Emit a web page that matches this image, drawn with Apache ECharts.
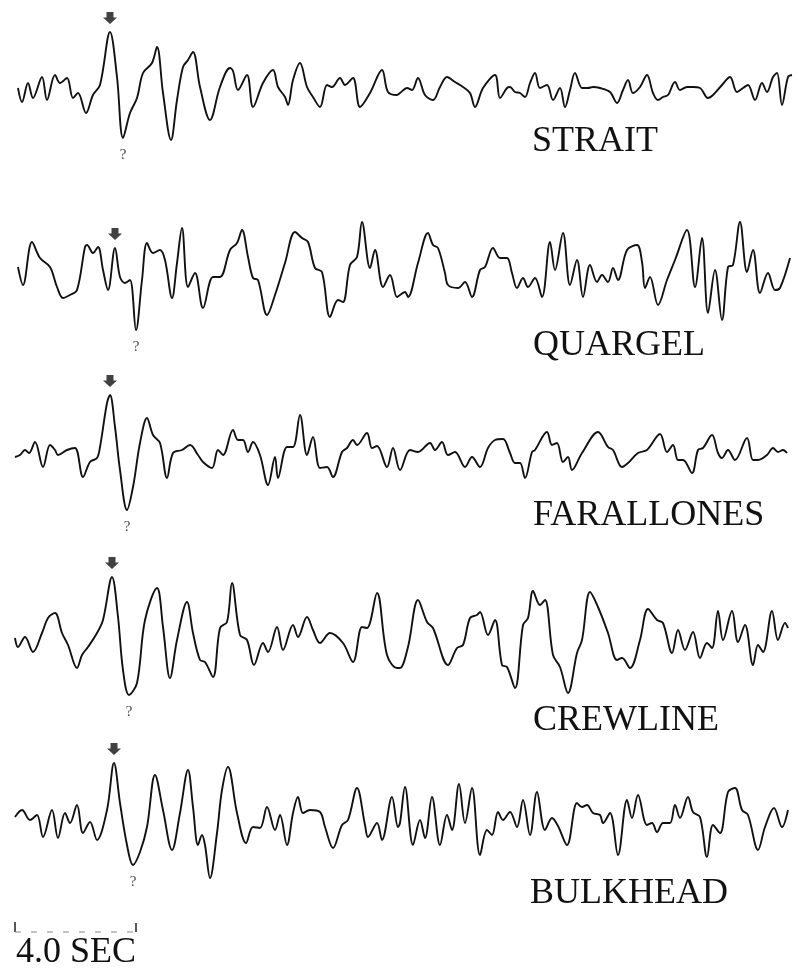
<!DOCTYPE html>
<html>
<head>
<meta charset="utf-8">
<script src="https://cdn.jsdelivr.net/npm/echarts@6/dist/echarts.min.js"></script>
<style>html,body{margin:0;padding:0;background:#fff;}#c{width:798px;height:979px;}</style>
</head>
<body>
<div id="c"></div>
<script>
const strait = [[18,88],[22,102],[28,83],[33,98],[42,77],[47,100],[55,75],[60,83],[67,78],[73,98],[78,93],[86,113],[93,95],[100,85],[110,32],[117,77],[123,138],[130,113],[137,98],[143,73],[152,63],[157,47],[163,93],[171,140],[177,100],[183,67],[188,60],[193,52],[200,87],[210,120],[220,87],[230,68],[233,71],[238,90],[247,75],[253,107],[263,83],[273,70],[278,87],[285,97],[288,105],[293,80],[300,63],[307,87],[313,97],[320,107],[327,85],[332,87],[340,78],[345,85],[353,78],[360,107],[370,93],[382,70],[388,92],[397,95],[400,93],[407,88],[412,90],[418,78],[425,95],[433,100],[440,87],[447,77],[455,82],[463,87],[470,93],[475,107],[483,88],[495,75],[500,98],[507,88],[510,87],[515,92],[520,93],[525,97],[530,83],[535,73],[540,88],[547,85],[553,100],[560,88],[565,107],[570,90],[575,73],[582,88],[588,88],[593,87],[600,88],[610,92],[617,103],[623,90],[628,80],[633,93],[640,87],[647,75],[653,93],[658,100],[663,97],[668,95],[675,82],[680,90],[687,87],[693,87],[700,88],[708,98],[713,95],[722,85],[730,77],[737,92],[743,88],[748,85],[755,100],[762,83],[767,92],[773,77],[777,73],[782,105],[788,77],[792,75]];
const quargel = [[18,267],[23,285],[32,242],[40,258],[50,267],[57,287],[63,298],[70,295],[77,290],[85,247],[87,245],[93,253],[98,247],[103,270],[108,290],[115,248],[120,277],[125,283],[130,280],[136,330],[142,280],[147,243],[153,253],[160,250],[165,260],[172,298],[177,263],[182,228],[188,287],[195,273],[203,308],[213,277],[220,277],[230,250],[237,243],[242,230],[248,257],[253,278],[258,280],[267,315],[275,295],[285,263],[295,232],[302,238],[308,242],[315,268],[322,272],[330,317],[338,300],[343,302],[350,265],[357,257],[362,222],[370,268],[375,250],[383,287],[390,275],[397,297],[400,295],[405,292],[408,297],[418,263],[428,233],[433,245],[438,248],[445,273],[448,285],[458,288],[465,282],[472,297],[480,270],[485,267],[493,248],[500,258],[507,258],[512,273],[517,288],[523,278],[528,287],[535,278],[542,297],[550,242],[555,270],[563,233],[570,285],[577,260],[583,297],[590,265],[597,282],[602,275],[608,282],[613,268],[618,280],[627,250],[637,245],[642,262],[645,288],[650,277],[658,305],[667,280],[675,260],[687,230],[695,287],[702,238],[708,313],[715,270],[722,320],[728,267],[733,265],[740,222],[747,272],[753,250],[760,293],[768,273],[775,290],[780,288],[790,258]];
const farallones = [[15,457],[20,455],[25,450],[29,453],[35,442],[43,467],[50,445],[55,450],[58,455],[67,450],[75,448],[83,477],[90,462],[97,458],[100,447],[107,403],[110,395],[115,427],[120,470],[127,510],[133,487],[140,443],[147,418],[153,435],[160,443],[167,478],[173,453],[182,450],[190,445],[198,455],[203,462],[212,468],[218,450],[223,455],[233,430],[238,440],[243,440],[248,452],[253,442],[260,455],[268,485],[275,457],[278,478],[287,447],[293,447],[300,415],[307,455],[313,437],[320,468],[327,467],[333,477],[342,452],[347,448],[353,440],[357,445],[367,433],[372,448],[377,446],[387,467],[393,448],[400,470],[410,450],[418,452],[430,443],[435,450],[442,442],[448,455],[455,452],[465,467],[472,457],[480,467],[488,448],[495,440],[503,439],[510,453],[515,463],[520,463],[525,478],[532,452],[535,450],[547,432],[552,445],[557,443],[563,462],[568,457],[572,470],[582,453],[598,432],[608,447],[613,450],[622,467],[628,463],[638,453],[647,450],[660,434],[667,452],[673,445],[678,460],[683,460],[692,473],[698,450],[703,448],[712,435],[718,453],[722,458],[728,450],[735,460],[747,438],[753,460],[758,460],[767,455],[773,448],[778,452],[783,450],[787,453]];
const crewline = [[15,638],[18,647],[25,637],[33,652],[42,633],[48,618],[55,613],[62,633],[68,645],[77,668],[82,655],[88,647],[97,633],[103,620],[112,577],[118,617],[123,670],[129,695],[137,683],[145,620],[157,588],[163,627],[170,678],[177,640],[187,602],[193,633],[200,660],[205,662],[213,677],[220,628],[227,622],[232,583],[240,635],[247,640],[254,665],[263,643],[268,652],[277,627],[283,650],[293,625],[298,637],[307,617],[313,630],[320,643],[330,633],[343,643],[353,662],[362,627],[367,628],[377,593],[387,655],[397,668],[400,668],[408,647],[418,600],[427,622],[433,628],[448,665],[457,648],[463,645],[470,618],[477,615],[480,612],[488,635],[495,620],[502,665],[507,667],[515,688],[523,625],[528,618],[533,591],[540,605],[545,600],[553,655],[560,667],[568,693],[577,653],[582,640],[590,592],[598,607],[608,633],[617,660],[622,658],[630,668],[640,640],[648,609],[657,620],[663,623],[672,653],[678,630],[685,650],[693,632],[700,658],[707,643],[712,648],[718,611],[723,640],[732,611],[738,642],[745,625],[753,665],[758,645],[763,652],[772,611],[778,640],[785,623],[788,628]];
const bulkhead = [[15,817],[22,810],[30,820],[37,815],[43,837],[52,810],[58,838],[65,813],[70,823],[77,805],[83,833],[90,822],[97,840],[107,810],[114,763],[120,803],[127,845],[133,865],[140,852],[147,827],[155,775],[163,810],[172,850],[180,813],[188,770],[193,807],[198,845],[202,835],[205,845],[210,878],[217,833],[222,790],[228,767],[237,813],[246,843],[253,827],[260,828],[267,807],[275,830],[280,815],[287,845],[293,813],[298,797],[303,813],[310,810],[320,812],[325,827],[333,848],[342,825],[348,820],[357,788],[365,825],[368,837],[377,823],[382,840],[392,797],[398,827],[400,823],[405,787],[413,845],[420,820],[425,838],[432,797],[440,845],[447,815],[452,830],[459,784],[465,823],[472,788],[480,855],[487,830],[492,835],[498,812],[503,820],[510,812],[517,827],[523,800],[530,835],[537,792],[545,830],[552,818],[558,826],[567,845],[577,803],[582,807],[587,805],[593,813],[600,815],[603,823],[610,813],[618,855],[627,800],[632,818],[638,795],[647,825],[652,823],[657,832],[663,823],[670,823],[675,805],[680,818],[688,797],[693,812],[700,817],[707,857],[713,825],[720,833],[728,792],[735,788],[742,810],[748,815],[758,850],[765,827],[774,808],[782,827],[788,810]];

const stationNames = ['STRAIT','QUARGEL','FARALLONES','CREWLINE','BULKHEAD'];
// arrival pick (arrow) and questioned trough, same reading units
const arrowPicks = [[110,32],[115,248],[110,395],[112,577],[114,763]];
const troughPicks = [[123,138],[136,330],[127,510],[129,695],[133,865]];
const scaleBarSec = 4.0;
const scaleLabel = '4.0 SEC';

// ---- layout / conversion ----
const X0 = 15, PX_PER_SEC = 30.25, PLOT_W = 780;
const baselines = [92, 275, 455, 640, 820];
const labelY = [143, 347, 517, 722, 895];
const labelX = [532, 533, 533, 533, 530];
const traces = [strait, quargel, farallones, crewline, bulkhead];
const toT = x => (x - X0) / PX_PER_SEC;
const FONT = '36px "Liberation Serif"';

const grids = [], xAxes = [], yAxes = [], series = [], graphics = [];
const xMax = PLOT_W / PX_PER_SEC;
function addGrid(base, half) {
  grids.push({left: X0, width: PLOT_W, top: base - half, height: 2 * half, containLabel: false});
  const i = grids.length - 1;
  xAxes.push({type: 'value', gridIndex: i, min: 0, max: xMax, show: false});
  yAxes.push({type: 'value', gridIndex: i, min: -half, max: half, show: false});
  return i;
}
traces.forEach((tr, k) => {
  const base = baselines[k];
  const gi = addGrid(base, 80);
  series.push({
    type: 'line', xAxisIndex: gi, yAxisIndex: gi, showSymbol: false, smooth: 0.35,
    lineStyle: {color: '#111', width: 1.9}, silent: true,
    data: tr.map(p => [toT(p[0]), base - p[1]])
  });
  series.push({
    type: 'scatter', xAxisIndex: gi, yAxisIndex: gi, silent: true,
    symbol: 'path://M3,0 L9,0 L9,5 L12,5 L6,11 L0,5 L3,5 Z',
    symbolSize: [14, 12], symbolOffset: [0, -14],
    itemStyle: {color: '#111'},
    data: [[toT(arrowPicks[k][0]), base - arrowPicks[k][1]]]
  });
  series.push({
    type: 'scatter', xAxisIndex: gi, yAxisIndex: gi, silent: true,
    symbolSize: 1, itemStyle: {color: 'rgba(0,0,0,0)'},
    label: {show: true, formatter: '?', position: 'bottom', distance: 9,
      fontFamily: 'Liberation Serif', fontSize: 15, color: '#111'},
    data: [[toT(troughPicks[k][0]), base - troughPicks[k][1]]]
  });
  graphics.push({type: 'text', left: labelX[k], top: labelY[k] - 19,
    style: {text: stationNames[k], font: FONT, fill: '#111'}});
});
// scale bar
const sg = addGrid(927, 10);
series.push({
  type: 'line', xAxisIndex: sg, yAxisIndex: sg, showSymbol: false, silent: true,
  lineStyle: {color: '#222', width: 1.5},
  data: [[0, 5], [0, -5], '-', [scaleBarSec, 4], [scaleBarSec, -5]]
});
series.push({
  type: 'line', xAxisIndex: sg, yAxisIndex: sg, showSymbol: false, silent: true,
  lineStyle: {color: '#888', width: 1.2, type: [6, 10]},
  data: [[0, -5], [scaleBarSec, -5]]
});
graphics.push({type: 'text', left: 16, top: 935,
  style: {text: scaleLabel, font: FONT, fill: '#111'}});

const chart = echarts.init(document.getElementById('c'));
chart.setOption({
  animation: false,
  backgroundColor: '#fff',
  grid: grids, xAxis: xAxes, yAxis: yAxes, series: series, graphic: graphics
});
</script>
</body>
</html>
